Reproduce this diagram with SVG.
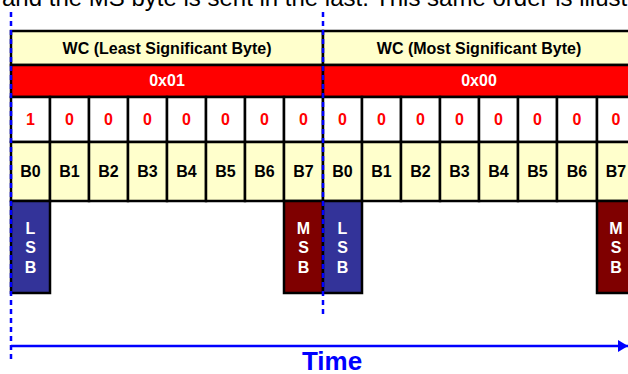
<svg xmlns="http://www.w3.org/2000/svg" width="628" height="374" viewBox="0 0 628 374">
<defs>
<style>
text{font-family:"Liberation Sans",Arial,sans-serif;}
.hdr{fill:#FFFFCC;stroke:#000;stroke-width:2.5;}
.hex{fill:#FF0000;stroke:#000;stroke-width:2.5;}
.bit{fill:#FFFFFF;stroke:#000;stroke-width:2.5;}
.bn{fill:#FFFFCC;stroke:#000;stroke-width:2.5;}
.lsb{fill:#333399;stroke:#000;stroke-width:2.5;}
.msb{fill:#7F0000;stroke:#000;stroke-width:2.5;}
.th{font-size:16px;font-weight:bold;fill:#000;text-anchor:middle;}
.tw{font-size:16px;font-weight:bold;fill:#fff;text-anchor:middle;}
.tb{font-size:16px;font-weight:bold;fill:#FF0000;text-anchor:middle;}
.tn{font-size:16px;font-weight:bold;fill:#000;text-anchor:middle;}
.tv{font-size:16px;font-weight:bold;fill:#fff;text-anchor:middle;}
.dot{stroke:#0000FF;stroke-width:2.5;stroke-dasharray:5 4;fill:none;}
</style>
<marker id="ah" markerWidth="10" markerHeight="12" refX="10" refY="6" orient="auto" markerUnits="userSpaceOnUse">
<path d="M0,0 L10,6 L0,12 Z" fill="#0000FF"/>
</marker>
</defs>
<rect width="628" height="374" fill="#fff"/>
<text x="2" y="6" style="font-size:24px;fill:#000;">and the MS byte is sent in the last. This same order is illustrated</text>

<g id="lsb-byte">
<rect class="hdr" x="11" y="31" width="312" height="34"/>
<text class="th" x="167" y="54">WC (Least Significant Byte)</text>
<rect class="hex" x="11" y="65" width="312" height="32"/>
<text class="tw" x="167" y="86">0x01</text>
</g>
<g id="msb-byte">
<rect class="hdr" x="323" y="31" width="320" height="34"/>
<text class="th" x="479" y="54">WC (Most Significant Byte)</text>
<rect class="hex" x="323" y="65" width="320" height="32"/>
<text class="tw" x="479" y="86">0x00</text>
</g>

<g id="bits">
<rect class="bit" x="11" y="97" width="39" height="45"/><text class="tb" x="30.5" y="125">1</text>
<rect class="bit" x="50" y="97" width="39" height="45"/><text class="tb" x="69.5" y="125">0</text>
<rect class="bit" x="89" y="97" width="39" height="45"/><text class="tb" x="108.5" y="125">0</text>
<rect class="bit" x="128" y="97" width="39" height="45"/><text class="tb" x="147.5" y="125">0</text>
<rect class="bit" x="167" y="97" width="39" height="45"/><text class="tb" x="186.5" y="125">0</text>
<rect class="bit" x="206" y="97" width="39" height="45"/><text class="tb" x="225.5" y="125">0</text>
<rect class="bit" x="245" y="97" width="39" height="45"/><text class="tb" x="264.5" y="125">0</text>
<rect class="bit" x="284" y="97" width="39" height="45"/><text class="tb" x="303.5" y="125">0</text>
<rect class="bit" x="323" y="97" width="39" height="45"/><text class="tb" x="342.5" y="125">0</text>
<rect class="bit" x="362" y="97" width="39" height="45"/><text class="tb" x="381.5" y="125">0</text>
<rect class="bit" x="401" y="97" width="39" height="45"/><text class="tb" x="420.5" y="125">0</text>
<rect class="bit" x="440" y="97" width="39" height="45"/><text class="tb" x="459.5" y="125">0</text>
<rect class="bit" x="479" y="97" width="39" height="45"/><text class="tb" x="498.5" y="125">0</text>
<rect class="bit" x="518" y="97" width="39" height="45"/><text class="tb" x="537.5" y="125">0</text>
<rect class="bit" x="557" y="97" width="40" height="45"/><text class="tb" x="577" y="125">0</text>
<rect class="bit" x="597" y="97" width="40" height="45"/><text class="tb" x="616" y="125">0</text>
</g>

<g id="bitnames">
<rect class="bn" x="11" y="142" width="39" height="59"/><text class="tn" x="30.5" y="177">B0</text>
<rect class="bn" x="50" y="142" width="39" height="59"/><text class="tn" x="69.5" y="177">B1</text>
<rect class="bn" x="89" y="142" width="39" height="59"/><text class="tn" x="108.5" y="177">B2</text>
<rect class="bn" x="128" y="142" width="39" height="59"/><text class="tn" x="147.5" y="177">B3</text>
<rect class="bn" x="167" y="142" width="39" height="59"/><text class="tn" x="186.5" y="177">B4</text>
<rect class="bn" x="206" y="142" width="39" height="59"/><text class="tn" x="225.5" y="177">B5</text>
<rect class="bn" x="245" y="142" width="39" height="59"/><text class="tn" x="264.5" y="177">B6</text>
<rect class="bn" x="284" y="142" width="39" height="59"/><text class="tn" x="303.5" y="177">B7</text>
<rect class="bn" x="323" y="142" width="39" height="59"/><text class="tn" x="342.5" y="177">B0</text>
<rect class="bn" x="362" y="142" width="39" height="59"/><text class="tn" x="381.5" y="177">B1</text>
<rect class="bn" x="401" y="142" width="39" height="59"/><text class="tn" x="420.5" y="177">B2</text>
<rect class="bn" x="440" y="142" width="39" height="59"/><text class="tn" x="459.5" y="177">B3</text>
<rect class="bn" x="479" y="142" width="39" height="59"/><text class="tn" x="498.5" y="177">B4</text>
<rect class="bn" x="518" y="142" width="39" height="59"/><text class="tn" x="537.5" y="177">B5</text>
<rect class="bn" x="557" y="142" width="40" height="59"/><text class="tn" x="577" y="177">B6</text>
<rect class="bn" x="597" y="142" width="40" height="59"/><text class="tn" x="616" y="177">B7</text>
</g>

<g id="lsb1">
<rect class="lsb" x="11" y="201" width="39" height="92"/>
<text class="tv" x="30.5" y="233.5">L</text><text class="tv" x="30.5" y="253">S</text><text class="tv" x="30.5" y="272.5">B</text>
</g>
<g id="msb1">
<rect class="msb" x="284" y="201" width="39" height="92"/>
<text class="tv" x="303.5" y="233.5">M</text><text class="tv" x="303.5" y="253">S</text><text class="tv" x="303.5" y="272.5">B</text>
</g>
<g id="lsb2">
<rect class="lsb" x="323" y="201" width="39" height="92"/>
<text class="tv" x="342.5" y="233.5">L</text><text class="tv" x="342.5" y="253">S</text><text class="tv" x="342.5" y="272.5">B</text>
</g>
<g id="msb2">
<rect class="msb" x="597" y="201" width="40" height="92"/>
<text class="tv" x="616" y="233.5">M</text><text class="tv" x="616" y="253">S</text><text class="tv" x="616" y="272.5">B</text>
</g>

<g id="connectors">
<line class="dot" x1="11" y1="12" x2="11" y2="360"/>
<line class="dot" x1="323" y1="12" x2="323" y2="317"/>
<line x1="11" y1="346" x2="628" y2="346" stroke="#0000FF" stroke-width="2.5" marker-end="url(#ah)"/>
</g>
<text x="332" y="370" style="font-size:26px;font-weight:bold;fill:#0000FF;text-anchor:middle;">Time</text>
</svg>
